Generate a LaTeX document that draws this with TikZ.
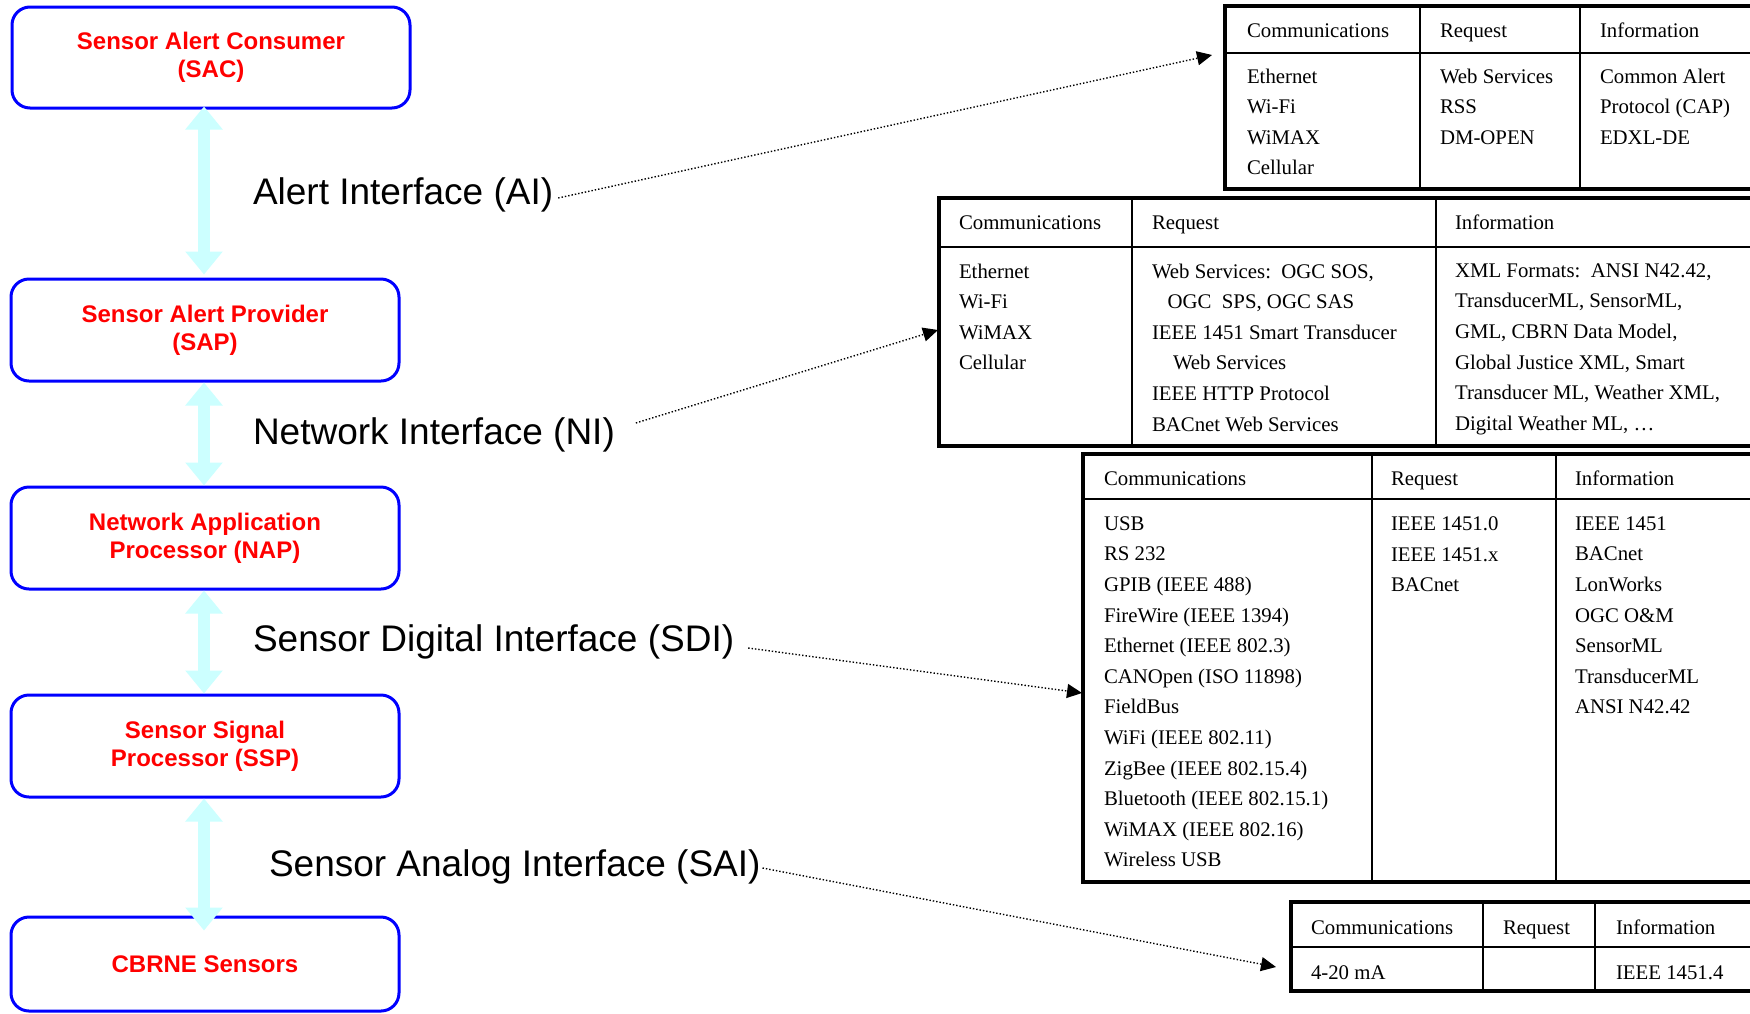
\documentclass[tikz,border=0pt]{standalone}
\usepackage{fontspec}
\setmainfont{Liberation Serif}
\newfontfamily\arialfont{Liberation Sans}
\usetikzlibrary{arrows.meta,calc}
\definecolor{boxblue}{RGB}{0,0,255}
\definecolor{boxred}{RGB}{255,0,0}
\definecolor{lcyan}{RGB}{204,255,255}
\begin{document}
\begin{tikzpicture}[x=0.5pt,y=-0.5pt,
  layerbox/.style={draw=boxblue, line width=1.5pt, rounded corners=9pt, text=boxred,
    font=\arialfont\bfseries\fontsize{12}{14}\selectfont, align=center, inner sep=0pt},
  iflabel/.style={anchor=base west, inner sep=0pt, outer sep=0pt,
    font=\arialfont\fontsize{18.5}{22}\selectfont},
  dbl/.style={draw=lcyan, line width=6pt,
    arrows={Triangle[width=18pt,length=11.5pt]-Triangle[width=18pt,length=11.5pt]}},
  dotarr/.style={line width=0.7pt, dash pattern=on 0.7pt off 1pt,
    arrows={-Triangle[length=7.5pt,width=7pt]}},
  tframe/.style={line width=2pt},
  trule/.style={line width=1pt},
  cell/.style={anchor=north west, inner sep=0pt, outer sep=0pt, align=left,
    font=\fontsize{10.4}{15.3}\selectfont, execute at begin node=\strut}
]
\useasboundingbox (0,0) rectangle (1750,1013);
\fill[white] (0,0) rectangle (1750,1013);
\clip (0,0) rectangle (1750,1013);

% ---------- left column ----------
\node[layerbox, minimum width=199pt, minimum height=50.5pt] (sac) at (211,57.5)
  {Sensor Alert Consumer\\(SAC)};
\node[layerbox, minimum width=194pt, minimum height=51pt] (sap) at (205,330)
  {Sensor Alert Provider\\(SAP)};
\node[layerbox, minimum width=194pt, minimum height=51pt] (nap) at (205,538)
  {Network Application\\Processor (NAP)};
\node[layerbox, minimum width=194pt, minimum height=51pt] (ssp) at (205,746)
  {Sensor Signal\\Processor (SSP)};
\node[layerbox, minimum width=194pt, minimum height=47pt] (cbrne) at (205,964)
  {CBRNE Sensors};

\coordinate (ax) at (204,0);
\draw[dbl] ($(sac.south -| ax)+(0,-3)$) -- ($(sap.north -| ax)+(0,-3)$);
\draw[dbl] (sap.south -| ax) -- (nap.north -| ax);
\draw[dbl] (nap.south -| ax) -- (ssp.north -| ax);
\draw[dbl] (ssp.south -| ax) -- ($(cbrne.north -| ax)+(0,15)$);

% ---------- interface labels ----------
\node[iflabel] (ai)  at (253,204) {Alert Interface (AI)};
\node[iflabel] (ni)  at (253,444) {Network Interface (NI)};
\node[iflabel] (sdi) at (253,651) {Sensor Digital Interface (SDI)};
\node[iflabel] (sai) at (269,876) {Sensor Analog Interface (SAI)};

% ---------- table 1 (AI) ----------
\draw[trule] (1225,53) -- (1770,53) (1420,6) -- (1420,189) (1580,6) -- (1580,189);
\draw[tframe] (1225,6) rectangle (1770,189);
\node[cell] (t1h1) at (1247,15.6) {Communications};
\node[cell] (t1h2) at (1440,15.6) {Request};
\node[cell] (t1h3) at (1600,15.6) {Information};
\node[cell] (t1c1) at (1247,68.6) {Ethernet\\Wi-Fi\\WiMAX\\Cellular};
\node[cell] (t1c2) at (1440,68.6) {Web Services\\RSS\\DM-OPEN};
\node[cell] (t1c3) at (1600,68.6) {Common Alert\\Protocol (CAP)\\EDXL-DE};

% ---------- table 2 (NI) ----------
\draw[trule] (939,247) -- (1770,247) (1132,198) -- (1132,446) (1436,198) -- (1436,446);
\draw[tframe] (939,198) rectangle (1770,446);
\node[cell] (t2h1) at (959,207.6) {Communications};
\node[cell] (t2h2) at (1152,207.6) {Request};
\node[cell] (t2h3) at (1455,207.6) {Information};
\node[cell] (t2c1) at (959,263.6) {Ethernet\\Wi-Fi\\WiMAX\\Cellular};
\node[cell] (t2c2) at (1152,263.6) {Web Services:~~OGC SOS,\\\hspace*{7.8pt}OGC~~SPS, OGC SAS\\IEEE 1451 Smart Transducer\\\hspace*{10.5pt}Web Services\\IEEE HTTP Protocol\\BACnet Web Services};
\node[cell] (t2c3) at (1455,263.6) {XML Formats:~~ANSI N42.42,\\TransducerML, SensorML,\\GML, CBRN Data Model,\\Global Justice XML, Smart\\Transducer ML, Weather XML,\\Digital Weather ML, …};

% ---------- table 3 (SDI) ----------
\draw[trule] (1083,499) -- (1770,499) (1372,454) -- (1372,882) (1556,454) -- (1556,882);
\draw[tframe] (1083,454) rectangle (1770,882);
\node[cell] (t3h1) at (1104,463.6) {Communications};
\node[cell] (t3h2) at (1391,463.6) {Request};
\node[cell] (t3h3) at (1575,463.6) {Information};
\node[cell] (t3c1) at (1104,516.6) {USB\\RS 232\\GPIB (IEEE 488)\\FireWire (IEEE 1394)\\Ethernet (IEEE 802.3)\\CANOpen (ISO 11898)\\FieldBus\\WiFi (IEEE 802.11)\\ZigBee (IEEE 802.15.4)\\Bluetooth (IEEE 802.15.1)\\WiMAX (IEEE 802.16)\\Wireless USB};
\node[cell] (t3c2) at (1391,516.6) {IEEE 1451.0\\IEEE 1451.x\\BACnet};
\node[cell] (t3c3) at (1575,516.6) {IEEE 1451\\BACnet\\LonWorks\\OGC O\&M\\SensorML\\TransducerML\\ANSI N42.42};

% ---------- table 4 (SAI) ----------
\draw[trule] (1291,947) -- (1770,947) (1483,902) -- (1483,991) (1595,902) -- (1595,991);
\draw[tframe] (1291,902) rectangle (1770,991);
\node[cell] (t4h1) at (1311,912.6) {Communications};
\node[cell] (t4h2) at (1503,912.6) {Request};
\node[cell] (t4h3) at (1616,912.6) {Information};
\node[cell] (t4c1) at (1311,957.6) {4-20 mA};
\node[cell] (t4c3) at (1616,957.6) {IEEE 1451.4};

% ---------- dotted connectors ----------
\coordinate (t1in) at (1212,55);
\coordinate (t2in) at (938,330);
\coordinate (t3in) at (1082,693);
\coordinate (t4in) at (1276,967);
\draw[dotarr] ($(ai.base east)+(5,-6)$) -- (t1in);
\draw[dotarr] ($(ni.base east)+(21,-21)$) -- (t2in);
\draw[dotarr] ($(sdi.base east)+(14,-3)$) -- (t3in);
\draw[dotarr] ($(sai.base east)+(2,-8)$) -- (t4in);
\end{tikzpicture}
\end{document}
